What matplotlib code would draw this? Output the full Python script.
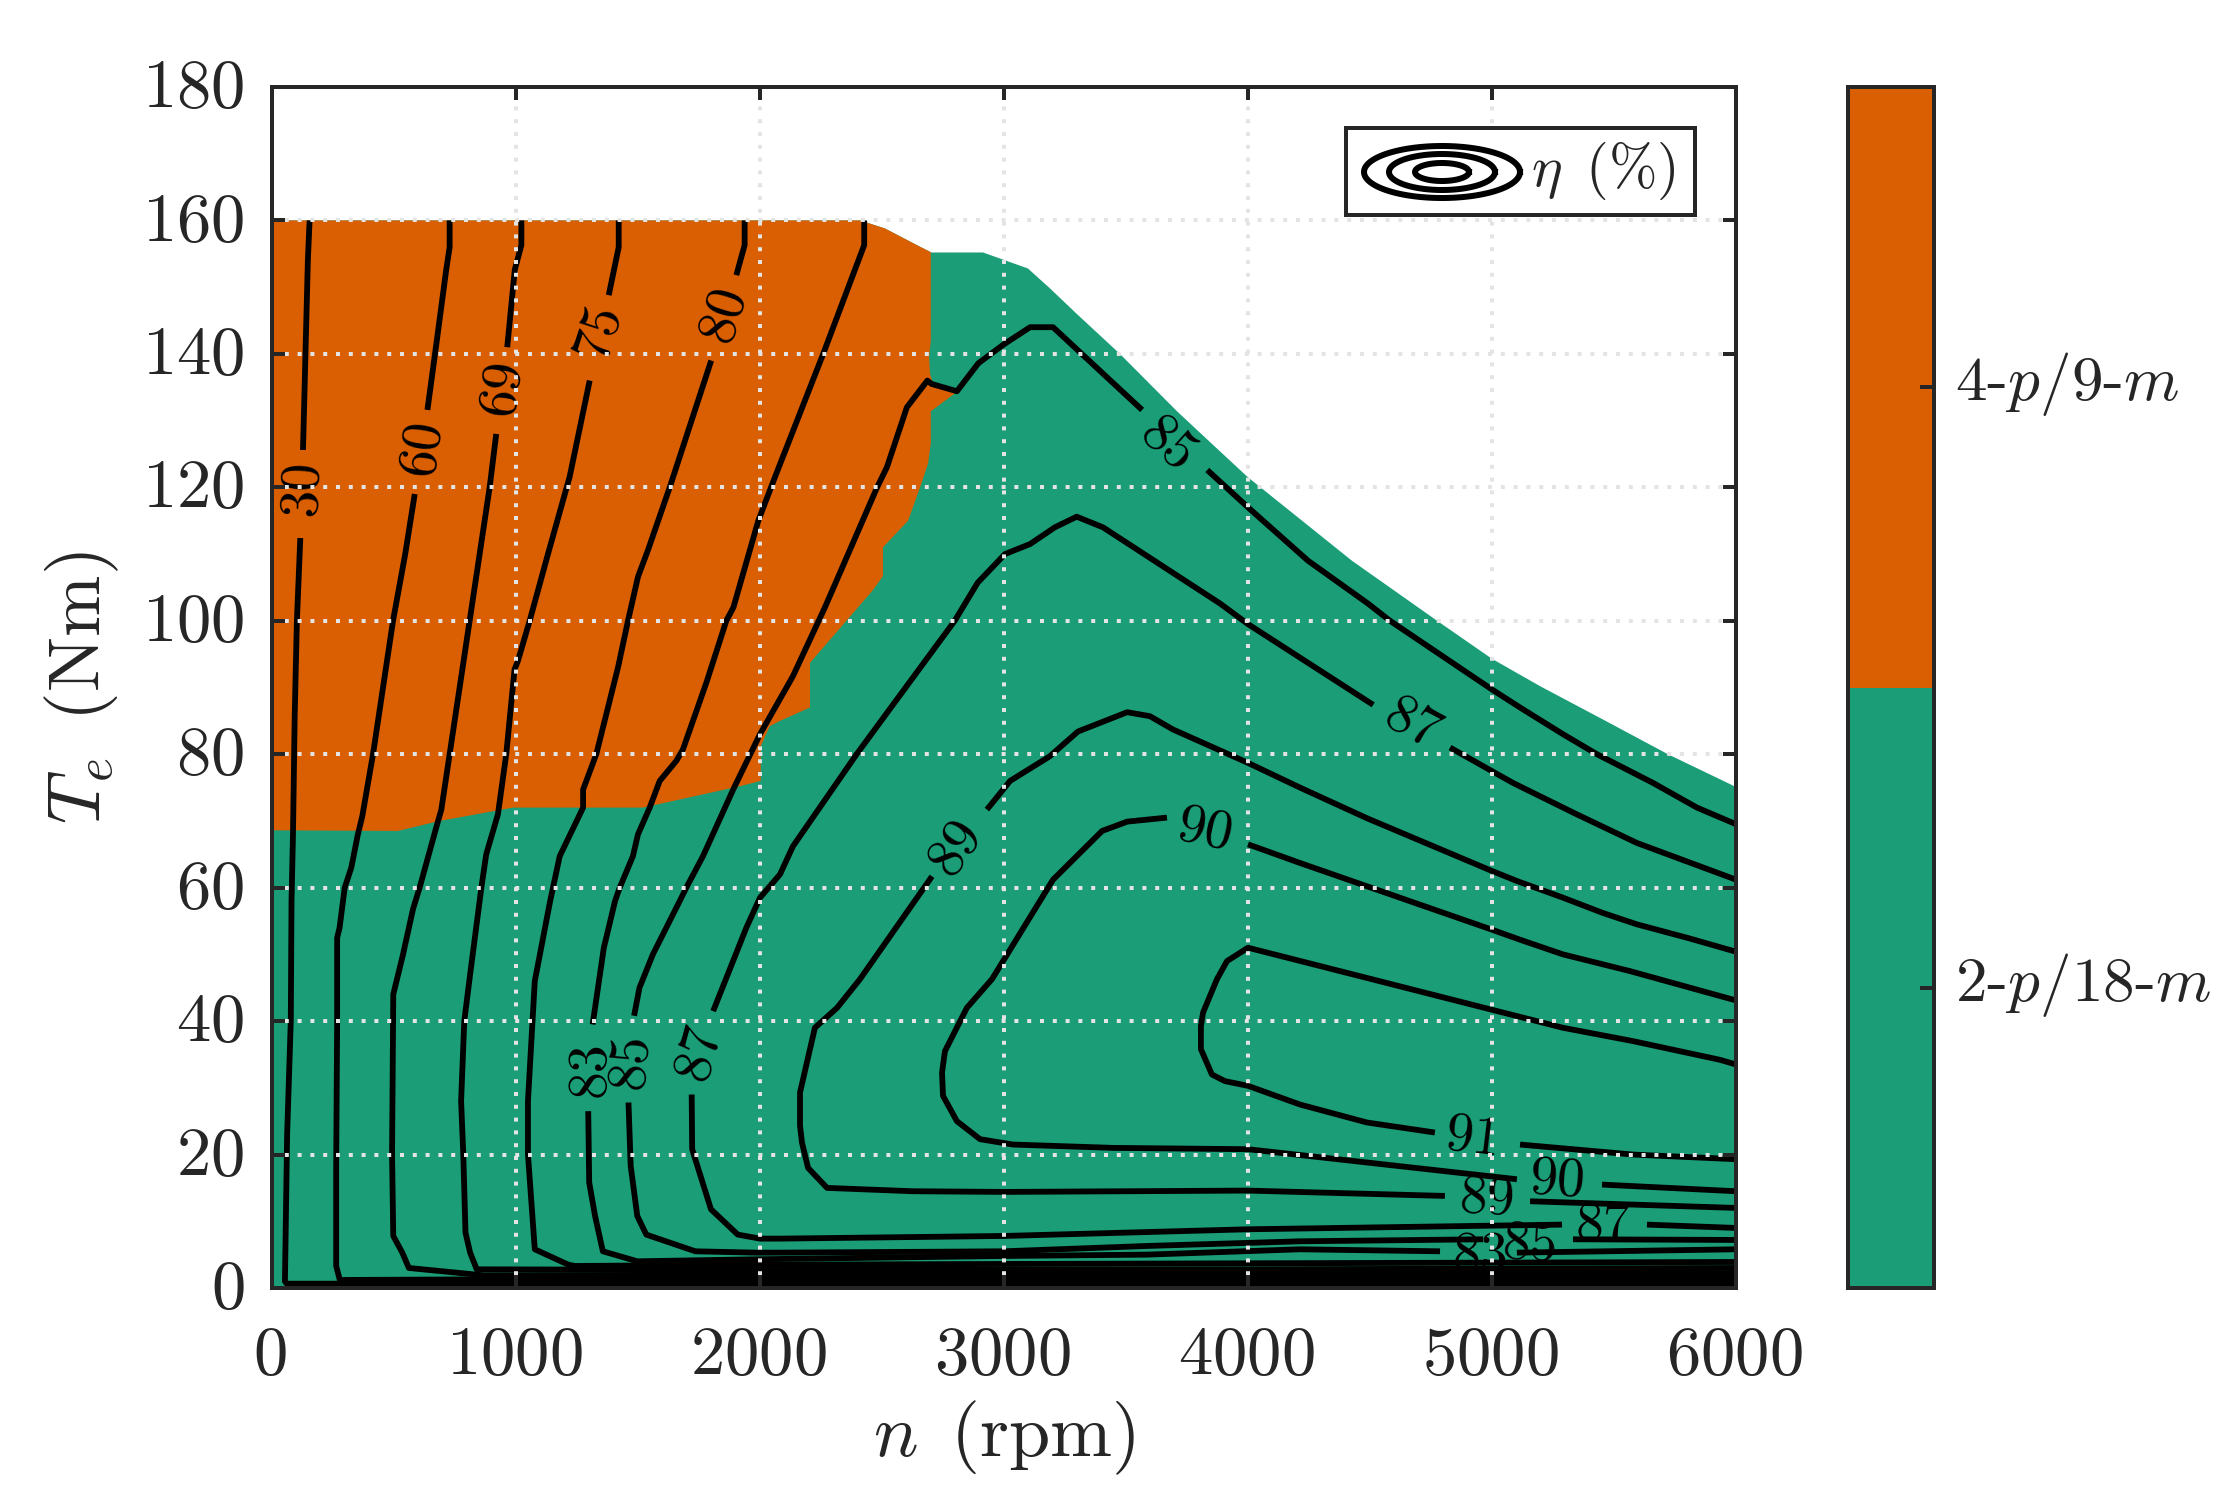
import numpy as np
import matplotlib
matplotlib.use("Agg")
import matplotlib.pyplot as plt
import matplotlib.transforms as mtrans
from matplotlib.colors import ListedColormap, BoundaryNorm
from matplotlib.cm import ScalarMappable

n = np.nan
W, H = 2237, 1501
plt.rcParams['font.family'] = ['cmr10', 'DejaVu Serif']
plt.rcParams['mathtext.fontset'] = 'cm'
plt.rcParams['axes.formatter.use_mathtext'] = True
plt.rcParams['axes.unicode_minus'] = False

GREEN = '#1B9E77'
ORANGE = '#D95F02'
DARK = '#262626'

# operating envelope of the map
envelope_rpm = [0, 0, 2410, 2512, 2643, 2697, 2700, 2914, 3098, 3189, 3298, 3475, 3709, 3885, 4000, 4426, 4775, 5000, 5197, 5455, 5721, 5988, 6000, 6000]
envelope_nm = [0, 160, 160, 158.8, 156.3, 155.3, 155.2, 155.2, 152.8, 149.8, 146, 140, 131.4, 125.4, 121.5, 109, 100, 94.3, 90.2, 85.2, 80, 75.3, 75, 0]

# region in which 4-p/9-m is the better winding
region4p_rpm = [0, 516, 687, 988, 1520, 1917, 2003, 2003, 2040, 2082, 2205, 2205, 2463, 2504, 2504, 2607, 2656, 2689, 2700, 2700, 2807, 2709, 2697, 2693, 2700, 2700, 2697, 2643, 2512, 2410, 0]
region4p_nm = [68.6, 68.5, 70, 72, 72, 75.2, 76, 81.2, 84.2, 85, 87, 93.7, 104.6, 106.7, 111, 115, 120, 123.6, 126.6, 131.4, 134.3, 135.6, 137, 139.6, 142, 155.2, 155.3, 156.3, 158.8, 160, 160]

# efficiency contours (nan = gap left for the in-line label)
eta30_rpm = [154, 147, 127, n, 116, 102, 93, 86, 80, 77, 62, 53, 60, 2000, 6000]
eta30_nm = [160, 154, 125.6, n, 112.4, 100, 85.7, 68, 58, 40, 23, 1, 0.65, 0.65, 0.7]
eta60_rpm = [728, 728, 714, 674, 637, n, 585, 546, 496, 414, 370, 352, 325, 298, 277, 267, 267, 263, 263, 278, 866, 2000, 6000]
eta60_nm = [160, 156, 152.6, 141.6, 131.6, n, 119, 110, 100, 80, 70.7, 68, 63, 60, 54, 52.5, 40, 18, 3.3, 1.2, 1.3, 1.3, 1.4]
eta69_rpm = [1022, 1022, 995, 964, n, 919, 892, 851, 810, 728, 694, 673, 605, 578, 537, 497, 492, 497, 534, 561, 866, 2000, 4000, 6000]
eta69_nm = [160, 156.3, 152.6, 141, n, 128, 120, 110, 100, 80, 71.7, 69, 60, 56.8, 50, 44, 20, 7.8, 5.3, 3, 1.9, 2.0, 2.1, 2.2]
eta75_rpm = [1421, 1421, 1380, n, 1302, 1220, 1131, 1056, 1008, 994, 960, 926, 878, 858, 812, 788, 775, 784, 793, 812, 839, 2000, 4000, 6000]
eta75_nm = [160, 156, 148.8, n, 136, 121.6, 110, 100, 94, 92.7, 80, 71, 65, 60, 47, 40, 28, 20, 8.3, 5.3, 2.8, 2.7, 2.8, 3.0]
eta80_rpm = [1937, 1937, 1903, n, 1800, 1630, 1541, 1500, 1459, 1418, 1329, 1275, 1275, 1179, 1140, 1077, 1049, 1049, 1077, 1214, 1241, 2000, 3000, 4000, 6000]
eta80_nm = [160, 156.3, 151.8, n, 139, 120, 110.6, 106.6, 100, 93, 80, 74.7, 72, 64.7, 58, 46, 28, 20, 5.8, 3.5, 3.3, 3.5, 3.6, 3.7, 3.9]
eta83_rpm = [2427, 2427, 2259, 2062, 1993, 1891, 1862, 1780, 1684, 1657, 1589, 1548, 1500, 1479, 1425, 1406, 1360, 1314, n, 1296, 1300, 1324, 1356, 1497, 1980, 3000, 3586, 4213, 4787, n, 5102, 6000]
eta83_nm = [160, 156.3, 140, 121.6, 115, 102, 100, 90.7, 80.7, 79, 76, 72, 68, 64.7, 60, 58, 51, 39.5, n, 26.5, 15.8, 10.8, 5.5, 4, 4.3, 4.8, 5, 5.8, 5.5, n, 5.3, 5.8]
eta85_rpm = [6000, 5332, n, 4964, 4213, 3586, 3000, 2082, 1980, 1735, 1534, 1497, 1470, 1461, n, 1484, 1506, 1561, 1671, 1698, 1766, 1890, 2000, 2135, 2266, 2480, 2520, 2602, 2686, 2703, 2807, 2895, 2998, 3107, 3201, 3566, n, 3833, 4000, 4246, 4491, 4582, 5000, 5115, 5291, 5430, 5660, 5840, 5988, 6000]
eta85_nm = [7.2, 7.3, n, 7.3, 7, 6.3, 5.5, 5.3, 5.3, 5.5, 8, 10.8, 18.3, 27.8, n, 40.8, 45, 50, 58, 60, 64.7, 74.7, 83, 91.7, 102, 120, 123, 132, 136, 135.5, 134.4, 138.6, 141.4, 144, 144, 131.6, n, 122.6, 117, 109, 102.6, 100, 89.7, 87, 83, 80, 75.7, 72, 69.7, 69.5]
eta87_rpm = [6000, 5635, n, 5287, 4000, 3000, 2082, 2000, 1909, 1799, 1722, 1720, n, 1808, 1944, 2000, 2082, 2135, 2396, 2798, 2892, 3004, 3107, 3208, 3298, 3406, 3885, 4000, 4513, n, 4828, 5086, 5347, 5594, 6000]
eta87_nm = [9, 9.5, n, 9.5, 8.8, 7.8, 7.4, 7.4, 8, 11.8, 20.8, 29, n, 41.5, 54, 58.5, 62, 66.2, 80, 100, 105.7, 110, 111.5, 114, 115.6, 114, 102.6, 99.5, 87.4, n, 81, 75.7, 71, 66.7, 61.2]
eta89_rpm = [6000, 5156, n, 4807, 4000, 3000, 2627, 2275, 2197, 2172, 2164, 2164, 2225, 2316, 2410, 2705, n, 2930, 3025, 3188, 3303, 3505, 3598, 3693, 4000, 4213, 4488, 5000, 5102, 5291, 5455, 5594, 5799, 6000]
eta89_nm = [12, 13, n, 13.8, 14.6, 14.4, 14.5, 15, 18, 21.8, 24.3, 29.3, 39, 42, 46.3, 61.7, n, 71.7, 76, 79.7, 83.4, 86.3, 85.7, 83.7, 78.7, 75, 70.4, 62.5, 61, 58.5, 56.2, 54.5, 52.5, 50.4]
eta90_rpm = [6000, 5451, n, 5102, 4000, 3447, 3037, 2902, 2807, 2750, 2746, 2758, 2848, 2951, 3201, 3402, 3505, 3668, n, 4000, 4213, 5000, 5115, 5291, 5565, 6000]
eta90_nm = [14.5, 15.5, n, 16.3, 20.8, 21, 21.5, 22.3, 25, 28.8, 32.3, 35.5, 42, 46.3, 61.2, 68.5, 69.9, 70.5, n, 66.5, 63.7, 53.7, 52.2, 50, 47.5, 43.1]
eta91_rpm = [6000, 5578, 5115, n, 4766, 4488, 4213, 4000, 3906, 3852, 3807, 3807, 3816, 3873, 3914, 4000, 5000, 5291, 5578, 5934, 6000]
eta91_nm = [19.3, 20, 21.5, n, 23.3, 24.8, 27.5, 30.3, 31, 32, 35.8, 39.3, 41.3, 46.3, 49, 51, 41.7, 39, 37, 34.2, 33.5]
eta_low_rpm = [70, 6000]
eta_low_nm = [0.15, 0.15]

# in-line labels: text, speed, torque, rotation
label_text = ['30', '60', '69', '75', '80', '85', '87', '89', '90', '91', '89', '90', '87', '83', '85', '87', '83', '85']
label_rpm = [127, 619, 947, 1343, 1855, 3670, 4671, 2807, 3824, 4922, 4980, 5270, 5455, 1305, 1474, 1753, 4951, 5156]
label_nm = [120, 126, 135, 143.4, 146, 126.3, 84.4, 66, 68.5, 22.3, 13.3, 16, 9.3, 32.8, 34, 35.3, 4.8, 6.3]
label_rot = [88, 82, 82, 72, 73, -42, -28, 55, -12, -7, -3, -4, 0, 90, 85, 75, 0, -3]

xticks = [0, 1000, 2000, 3000, 4000, 5000, 6000]
yticks = [0, 20, 40, 60, 80, 100, 120, 140, 160, 180]
winding_labels = [r'$2\text{-}p/18\text{-}m$', r'$4\text{-}p/9\text{-}m$']
legend_radii_x = [78, 53, 27]
legend_radii_y = [26, 18, 9]

px = 72 / 100  # points per pixel at dpi 100
fig = plt.figure(figsize=(W / 100, H / 100), dpi=100, facecolor='white')


def box(l, t, r, b):
    return [l / W, 1 - b / H, (r - l) / W, (b - t) / H]


ax = fig.add_axes(box(272, 87, 1736, 1288))
ax.set_xlim(0, 6000)
ax.set_ylim(0, 180)
ax.fill(envelope_rpm, envelope_nm, color=GREEN, lw=0, zorder=1)
ax.fill(region4p_rpm, region4p_nm, color=ORANGE, lw=0, zorder=1.1)

contours = [(eta30_rpm, eta30_nm), (eta60_rpm, eta60_nm), (eta69_rpm, eta69_nm),
            (eta75_rpm, eta75_nm), (eta80_rpm, eta80_nm), (eta83_rpm, eta83_nm),
            (eta85_rpm, eta85_nm), (eta87_rpm, eta87_nm), (eta89_rpm, eta89_nm),
            (eta90_rpm, eta90_nm), (eta91_rpm, eta91_nm), (eta_low_rpm, eta_low_nm)]
for cx, cy in contours:
    ax.plot(cx, cy, color='black', lw=5.8 * px, solid_joinstyle='round', solid_capstyle='butt', zorder=2)

for t, x, y, r in zip(label_text, label_rpm, label_nm, label_rot):
    ax.text(x, y, t, fontsize=40, rotation=r, rotation_mode='anchor', ha='center', va='center',
            color='black', zorder=2.2)

ax.set_axisbelow(False)
ax.grid(True, color='#e4e4e4', lw=4 * px, ls=(0, (1, 2.2)))
for s in ax.spines.values():
    s.set_linewidth(4 * px)
    s.set_color(DARK)
    s.set_zorder(4)
ax.set_xticks(xticks)
ax.set_yticks(yticks)
ax.tick_params(which='both', direction='in', top=True, right=True, length=13 * px, width=4 * px,
               color=DARK, labelcolor=DARK, labelsize=49.5)
ax.tick_params(axis='x', pad=27)
ax.tick_params(axis='y', pad=20)
shift_y = mtrans.ScaledTranslation(0, 4 / 100, fig.dpi_scale_trans)
for lab in ax.get_yticklabels():
    lab.set_transform(lab.get_transform() + shift_y)
shift_x = mtrans.ScaledTranslation(-2 / 100, 0, fig.dpi_scale_trans)
for lab in ax.get_xticklabels():
    lab.set_transform(lab.get_transform() + shift_x)
ax.set_xlabel(r'$n\ \,(\mathrm{rpm})$', fontsize=53.5, color=DARK, labelpad=9)
ax.set_ylabel(r'$T_e\ \,(\mathrm{Nm})$', fontsize=53, color=DARK, labelpad=15)

# legend glyph box
lg = fig.add_axes(box(1346, 128, 1695, 215), zorder=6)
lg.set_xlim(1346, 1695)
lg.set_ylim(215, 128)
lg.set_xticks([])
lg.set_yticks([])
for s in lg.spines.values():
    s.set_linewidth(4 * px)
    s.set_color(DARK)
theta = np.linspace(0, 2 * np.pi, 120)
for rx, ry in zip(legend_radii_x, legend_radii_y):
    lg.plot(1442 + rx * np.cos(theta), 172 + ry * np.sin(theta), color='black', lw=6 * px)
lg.text(1603, 171, r'$\eta\ \,(\%)$', fontsize=42, color=DARK, ha='center', va='center')

# categorical colour bar
cax = fig.add_axes(box(1848, 87, 1934, 1288))
cmap = ListedColormap([GREEN, ORANGE])
norm = BoundaryNorm([0, 1, 2], 2)
cb = fig.colorbar(ScalarMappable(norm=norm, cmap=cmap), cax=cax, ticks=[0.5, 1.5])
cb.ax.set_yticklabels(winding_labels)
cb.outline.set_linewidth(4 * px)
cb.outline.set_edgecolor(DARK)
cb.ax.tick_params(direction='in', length=14 * px, width=4 * px, color=DARK, labelcolor=DARK,
                  labelsize=45.5, pad=15)
cb.ax.minorticks_off()
shift = mtrans.ScaledTranslation(0, 12 / 100, fig.dpi_scale_trans)
for lab in cb.ax.get_yticklabels():
    lab.set_transform(lab.get_transform() + shift)

fig.savefig('out.png', dpi=100)
